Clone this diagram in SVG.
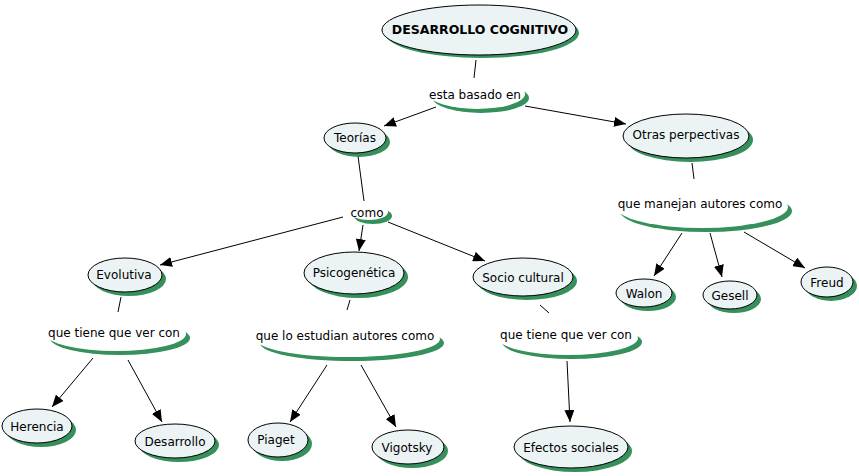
<svg xmlns="http://www.w3.org/2000/svg" width="859" height="476" viewBox="0 0 859 476">
<defs>
<style>
.sh{fill:#35905c}
.nd{fill:#ebf3f4;stroke:#000;stroke-width:1}
.lk{fill:#fff}
.t{font-family:"DejaVu Sans",Verdana,sans-serif;font-size:12px;fill:#000;text-anchor:middle}
.b{font-weight:bold;font-size:12.5px}
.e{stroke:#000;stroke-width:1;fill:none}
.a{marker-end:url(#ah)}
</style>
<marker id="ah" viewBox="0 0 12 10" refX="12" refY="5" markerWidth="12" markerHeight="10" markerUnits="userSpaceOnUse" orient="auto">
<path d="M0,0 L12,5 L0,10 z" fill="#000"/>
</marker>
</defs>
<rect width="859" height="476" fill="#fff"/>
<g id="connectors">
<line class="e" x1="476" y1="60" x2="474" y2="78"/>
<line class="e a" x1="436" y1="107" x2="384" y2="126"/>
<line class="e a" x1="525" y1="106" x2="626" y2="124"/>
<line class="e" x1="358" y1="156" x2="364" y2="201"/>
<line class="e" x1="692" y1="163" x2="694" y2="179"/>
<line class="e a" x1="343" y1="217" x2="160" y2="265"/>
<line class="e a" x1="363" y1="225" x2="359" y2="251"/>
<line class="e a" x1="388" y1="222" x2="485" y2="261"/>
<line class="e a" x1="682" y1="233" x2="654" y2="276"/>
<line class="e a" x1="710" y1="233" x2="722" y2="277"/>
<line class="e a" x1="744" y1="232" x2="805" y2="268"/>
<line class="e" x1="121" y1="297" x2="118" y2="312"/>
<line class="e" x1="350" y1="300" x2="347" y2="310"/>
<line class="e" x1="540" y1="305" x2="549" y2="313"/>
<line class="e a" x1="93" y1="358" x2="52" y2="407"/>
<line class="e a" x1="128" y1="360" x2="162" y2="422"/>
<line class="e a" x1="327" y1="365" x2="290" y2="422"/>
<line class="e a" x1="361" y1="365" x2="396" y2="427"/>
<line class="e a" x1="567" y1="361" x2="570" y2="422"/>
</g>
<g id="n-desarrollo-cognitivo">
<ellipse class="sh" cx="482" cy="33" rx="97" ry="25"/>
<ellipse class="nd" cx="479" cy="30" rx="97" ry="25"/>
<text class="t b" x="480" y="34">DESARROLLO COGNITIVO</text>
</g>
<g id="l-esta-basado-en">
<ellipse class="sh" cx="481" cy="98" rx="48" ry="15"/>
<ellipse class="lk" cx="477" cy="94" rx="48" ry="15"/>
<text class="t" x="475" y="99">esta basado en</text>
</g>
<g id="n-teorias">
<ellipse class="sh" cx="359" cy="142" rx="31" ry="15"/>
<ellipse class="nd" cx="355" cy="138" rx="31" ry="15"/>
<text class="t" x="355" y="142">Teorías</text>
</g>
<g id="n-otras">
<ellipse class="sh" cx="690" cy="140" rx="63" ry="22"/>
<ellipse class="nd" cx="686" cy="136" rx="63" ry="22"/>
<text class="t" x="686" y="139">Otras perpectivas</text>
</g>
<g id="l-como">
<ellipse class="sh" cx="373" cy="216" rx="19" ry="8"/>
<ellipse class="lk" cx="369" cy="212" rx="19" ry="8"/>
<text class="t" x="367" y="217">como</text>
</g>
<g id="l-que-manejan">
<ellipse class="sh" cx="706" cy="211" rx="86" ry="21"/>
<ellipse class="lk" cx="702" cy="207" rx="86" ry="21"/>
<text class="t" x="700" y="208">que manejan autores como</text>
</g>
<g id="n-evolutiva">
<ellipse class="sh" cx="129" cy="279" rx="37" ry="17"/>
<ellipse class="nd" cx="125" cy="275" rx="37" ry="17"/>
<text class="t" x="124" y="279">Evolutiva</text>
</g>
<g id="n-psicogenetica">
<ellipse class="sh" cx="358" cy="277" rx="50" ry="21"/>
<ellipse class="nd" cx="354" cy="273" rx="50" ry="21"/>
<text class="t" x="354" y="277">Psicogenética</text>
</g>
<g id="n-socio-cultural">
<ellipse class="sh" cx="527" cy="281" rx="50" ry="19"/>
<ellipse class="nd" cx="523" cy="277" rx="50" ry="19"/>
<text class="t" x="523" y="282">Socio cultural</text>
</g>
<g id="n-walon">
<ellipse class="sh" cx="648" cy="297" rx="28" ry="14"/>
<ellipse class="nd" cx="644" cy="293" rx="28" ry="14"/>
<text class="t" x="644" y="298">Walon</text>
</g>
<g id="n-gesell">
<ellipse class="sh" cx="734" cy="299" rx="27" ry="14"/>
<ellipse class="nd" cx="730" cy="295" rx="27" ry="14"/>
<text class="t" x="730" y="300">Gesell</text>
</g>
<g id="n-freud">
<ellipse class="sh" cx="831" cy="286" rx="26" ry="15"/>
<ellipse class="nd" cx="827" cy="282" rx="26" ry="15"/>
<text class="t" x="827" y="287">Freud</text>
</g>
<g id="l-evo">
<ellipse class="sh" cx="120" cy="338" rx="70" ry="17"/>
<ellipse class="lk" cx="116" cy="334" rx="70" ry="17"/>
<text class="t" x="114" y="337">que tiene que ver con</text>
</g>
<g id="l-psico">
<ellipse class="sh" cx="352" cy="343" rx="92" ry="18"/>
<ellipse class="lk" cx="348" cy="339" rx="92" ry="18"/>
<text class="t" x="345" y="340">que lo estudian autores como</text>
</g>
<g id="l-socio">
<ellipse class="sh" cx="572" cy="342" rx="70" ry="17"/>
<ellipse class="lk" cx="568" cy="338" rx="70" ry="17"/>
<text class="t" x="566" y="339">que tiene que ver con</text>
</g>
<g id="n-herencia">
<ellipse class="sh" cx="41" cy="430" rx="35" ry="17"/>
<ellipse class="nd" cx="37" cy="426" rx="35" ry="17"/>
<text class="t" x="37" y="431">Herencia</text>
</g>
<g id="n-desarrollo">
<ellipse class="sh" cx="179" cy="445" rx="40" ry="17"/>
<ellipse class="nd" cx="175" cy="441" rx="40" ry="17"/>
<text class="t" x="175" y="446">Desarrollo</text>
</g>
<g id="n-piaget">
<ellipse class="sh" cx="282" cy="444" rx="30" ry="17"/>
<ellipse class="nd" cx="278" cy="440" rx="30" ry="17"/>
<text class="t" x="276" y="444">Piaget</text>
</g>
<g id="n-vigotsky">
<ellipse class="sh" cx="412" cy="451" rx="36" ry="17"/>
<ellipse class="nd" cx="408" cy="447" rx="36" ry="17"/>
<text class="t" x="407" y="452">Vigotsky</text>
</g>
<g id="n-efectos">
<ellipse class="sh" cx="575" cy="451" rx="57" ry="21"/>
<ellipse class="nd" cx="571" cy="447" rx="57" ry="21"/>
<text class="t" x="571" y="452">Efectos sociales</text>
</g>
</svg>
